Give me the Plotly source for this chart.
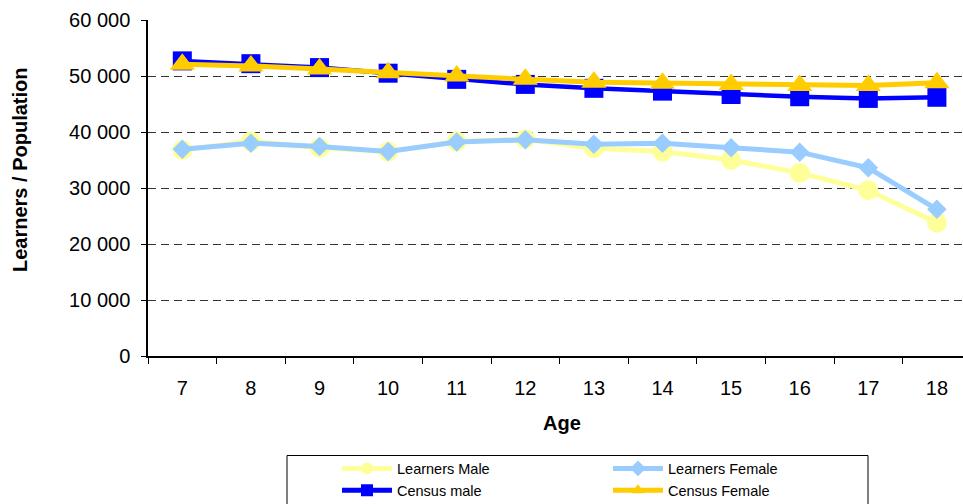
import plotly.graph_objects as go

ages = ["7", "8", "9", "10", "11", "12", "13", "14", "15", "16", "17", "18"]
learners_male = [36800, 38300, 37200, 36500, 38300, 38700, 37100, 36500, 35000, 32700, 29600, 23800]
learners_female = [36900, 38000, 37400, 36500, 38200, 38600, 37800, 38000, 37200, 36400, 33600, 26200]
census_male = [52700, 52200, 51500, 50500, 49400, 48500, 47800, 47300, 46700, 46300, 46000, 46200]
census_female = [52100, 51800, 51250, 50600, 50000, 49400, 48900, 48700, 48500, 48300, 48300, 48800]

W, H = 963, 504
L, R, T, B = 148, 963, 20, 356  # plot area in px


def px_x(p):
    return (p - L) / (R - L)


def px_y(p):
    return (B - p) / (B - T)


FONT = "Liberation Sans, Arial, sans-serif"

fig = go.Figure()
fig.add_trace(go.Scatter(
    x=ages, y=learners_male, name="Learners Male", mode="lines+markers",
    line=dict(color="#FFFF99", width=5),
    marker=dict(symbol="circle", size=20, color="#FFFF99"),
    legend="legend"))
fig.add_trace(go.Scatter(
    x=ages, y=learners_female, name="Learners Female", mode="lines+markers",
    line=dict(color="#99CCFF", width=5),
    marker=dict(symbol="diamond", size=15, color="#99CCFF"),
    legend="legend2"))
fig.add_trace(go.Scatter(
    x=ages, y=census_male, name="Census male", mode="lines+markers",
    line=dict(color="#0000FF", width=4.5),
    marker=dict(symbol="square", size=19, color="#0000FF"),
    legend="legend"))
fig.add_trace(go.Scatter(
    x=ages, y=census_female, name="Census Female", mode="lines+markers",
    line=dict(color="#FFCC00", width=5),
    marker=dict(symbol="triangle-up", size=22, color="#FFCC00"),
    legend="legend2"))

cat_w = 68.6
x_end = -0.5 + (R - L) / cat_w

leg_common = dict(
    orientation="v", yanchor="top", xanchor="left",
    font=dict(family=FONT, size=14.5, color="#000"),
    bgcolor="rgba(0,0,0,0)", borderwidth=0, itemwidth=50,
    itemsizing="constant",
    itemclick=False, itemdoubleclick=False,
)

fig.update_layout(
    width=W, height=H,
    margin=dict(l=L, r=W - R, t=T, b=H - B, autoexpand=False),
    paper_bgcolor="white", plot_bgcolor="white",
    font=dict(family=FONT, size=20, color="#000"),
    separators=". ",
    showlegend=True,
    legend=dict(x=px_x(337), y=px_y(452.5), **leg_common),
    legend2=dict(x=px_x(608), y=px_y(452.5), **leg_common),
    xaxis=dict(
        type="category", range=[-0.5, x_end],
        showgrid=False, zeroline=False,
        showline=True, linecolor="#000", linewidth=1.5,
        ticks="outside", ticklen=6, tickcolor="#000", tickwidth=1,
        tickson="boundaries",
        tickfont=dict(family=FONT, size=20, color="#000"),
        ticklabelstandoff=13,
    ),
    yaxis=dict(
        range=[0, 60000], tickvals=[0, 10000, 20000, 30000, 40000, 50000, 60000],
        tickformat=",d",
        showgrid=True, gridcolor="#333", gridwidth=1, griddash="8px,5px",
        zeroline=False,
        showline=True, linecolor="#000", linewidth=1.5,
        ticks="outside", ticklen=5, tickcolor="#000", tickwidth=1,
        tickfont=dict(family=FONT, size=20, color="#000"),
        ticklabelstandoff=7,
    ),
    shapes=[dict(
        type="rect", xref="paper", yref="paper",
        x0=px_x(287), x1=px_x(868), y0=px_y(455.5), y1=px_y(520),
        line=dict(color="#000", width=1), fillcolor="rgba(0,0,0,0)",
    )],
    annotations=[
        dict(text="<b>Learners / Population</b>", textangle=-90,
             xref="paper", yref="paper", x=px_x(20), y=px_y(170),
             xanchor="center", yanchor="middle", showarrow=False,
             font=dict(family=FONT, size=20, color="#000")),
        dict(text="<b>Age</b>",
             xref="paper", yref="paper", x=px_x(562), y=px_y(423),
             xanchor="center", yanchor="middle", showarrow=False,
             font=dict(family=FONT, size=20, color="#000")),
    ],
)

fig.write_html("out.html")
